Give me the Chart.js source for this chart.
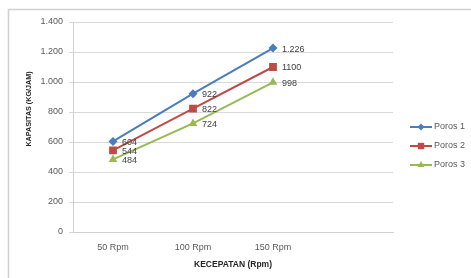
<!DOCTYPE html>
<html>
<head>
<meta charset="utf-8">
<script src="https://cdn.jsdelivr.net/npm/chart.js@4.4.1/dist/chart.umd.min.js"></script>
<style>
  html, body { margin: 0; padding: 0; background: #fff; }
  #wrap { position: relative; width: 471px; height: 278px; }
</style>
</head>
<body>
<div id="wrap"><canvas id="c" width="471" height="278"></canvas></div>
<script>
// ---- data ----
const categories = ['50 Rpm', '100 Rpm', '150 Rpm', ''];
const seriesNames = ['Poros 1', 'Poros 2', 'Poros 3'];
const poros1 = [604, 922, 1226];
const poros2 = [544, 822, 1100];
const poros3 = [484, 724, 998];
const poros1Labels = ['604', '922', '1.226'];
const poros2Labels = ['544', '822', '1100'];
const poros3Labels = ['484', '724', '998'];
const yTickLabels = ['0', '200', '400', '600', '800', '1.000', '1.200', '1.400'];
const yAxisTitle = 'KAPASITAS (KG/JAM)';
const xAxisTitle = 'KECEPATAN (Rpm)';

const FONT = "'Liberation Sans', Arial, sans-serif";
const colors = ['#4a7ebb', '#be4b48', '#98b954'];
const styles = ['rectRot', 'rect', 'triangle'];
const radii = [4.5, 5.5, 5];
const legendRadii = [3.5, 4.5, 4];
const pointLabels = [poros1Labels, poros2Labels, poros3Labels];
const values = [poros1, poros2, poros3];

const datasets = seriesNames.map((name, i) => ({
  label: name,
  data: values[i],
  borderColor: colors[i],
  backgroundColor: colors[i],
  borderWidth: 2,
  pointStyle: styles[i],
  pointRadius: radii[i],
  pointHoverRadius: radii[i],
  pointBorderWidth: 0,
  tension: 0,
  fill: false
}));

const extras = {
  id: 'extras',
  beforeDraw(chart) {
    const ctx = chart.ctx;
    ctx.save();
    ctx.strokeStyle = '#d0d0d0';
    ctx.lineWidth = 1.5;
    ctx.strokeRect(8.5, 9.5, 600, 400);
    ctx.restore();
  },
  afterDatasetsDraw(chart) {
    const ctx = chart.ctx;
    ctx.save();
    // data labels
    ctx.font = '9px ' + FONT;
    ctx.fillStyle = '#404040';
    ctx.textAlign = 'left';
    ctx.textBaseline = 'middle';
    chart.data.datasets.forEach((ds, i) => {
      const meta = chart.getDatasetMeta(i);
      meta.data.forEach((pt, j) => {
        ctx.fillText(pointLabels[i][j], pt.x + 9, pt.y + 1);
      });
    });
    // y axis title
    ctx.save();
    ctx.translate(29, 109);
    ctx.rotate(-Math.PI / 2);
    ctx.font = 'bold 7.2px ' + FONT;
    ctx.fillStyle = '#262626';
    ctx.textAlign = 'center';
    ctx.textBaseline = 'middle';
    ctx.fillText(yAxisTitle, 0, 0);
    ctx.restore();
    // legend
    chart.data.datasets.forEach((ds, i) => {
      const y = 127 + i * 19;
      ctx.strokeStyle = ds.borderColor;
      ctx.lineWidth = 2;
      ctx.beginPath();
      ctx.moveTo(410, y);
      ctx.lineTo(432, y);
      ctx.stroke();
      ctx.fillStyle = ds.backgroundColor;
      Chart.helpers.drawPoint(ctx, { pointStyle: ds.pointStyle, radius: legendRadii[i], rotation: 0, borderWidth: 0 }, 421, y);
      ctx.fillStyle = '#595959';
      ctx.font = '9px ' + FONT;
      ctx.textAlign = 'left';
      ctx.textBaseline = 'middle';
      ctx.fillText(ds.label, 434, y);
    });
    ctx.restore();
  }
};

new Chart(document.getElementById('c'), {
  type: 'line',
  data: { labels: categories, datasets },
  plugins: [extras],
  options: {
    responsive: false,
    animation: false,
    events: [],
    layout: { padding: { left: 0, right: 78, top: 22, bottom: 0 } },
    plugins: { legend: { display: false }, tooltip: { enabled: false } },
    scales: {
      x: {
        type: 'category',
        offset: true,
        grid: { display: false, drawTicks: false },
        border: { display: true, color: '#d0d0d0', width: 1 },
        ticks: { color: '#595959', font: { family: FONT, size: 9 }, padding: 10, maxRotation: 0, autoSkip: false },
        title: { display: true, text: xAxisTitle, color: '#262626', font: { family: FONT, size: 8.5, weight: 'bold' }, padding: { top: 0, bottom: 8 } },
        afterFit(s) { s.height = 46; }
      },
      y: {
        min: 0, max: 1400,
        grid: { color: '#d9d9d9', lineWidth: 1, tickLength: 4, drawTicks: true },
        border: { display: true, color: '#d0d0d0', width: 1 },
        ticks: {
          stepSize: 200, padding: 6, color: '#595959', font: { family: FONT, size: 9 },
          callback: (v, idx) => yTickLabels[idx]
        },
        afterFit(s) { s.width = 73; }
      }
    }
  }
});
</script>
</body>
</html>
